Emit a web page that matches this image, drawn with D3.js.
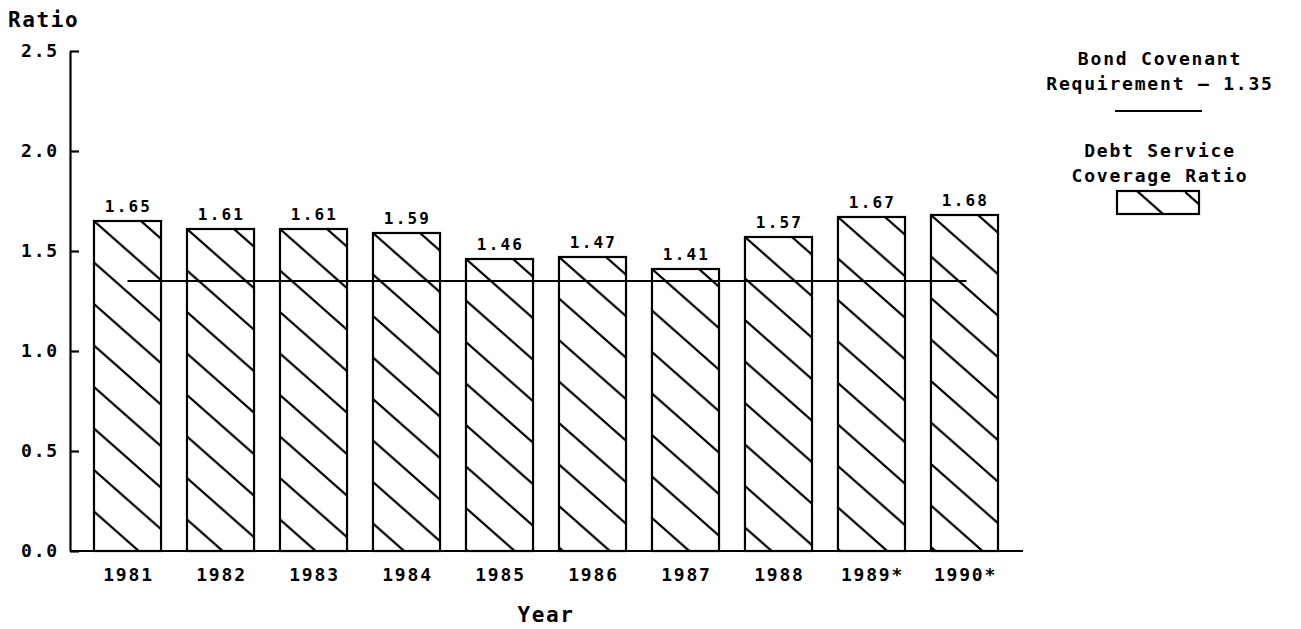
<!DOCTYPE html>
<html>
<head>
<meta charset="utf-8">
<script src="https://cdn.jsdelivr.net/npm/d3@7"></script>
<style>
    body { margin: 0; background: #fff; }
    svg { display: block; }
    text { font-family: "DejaVu Sans Mono", monospace; font-weight: bold; fill: #000; }
</style>
</head>
<body>
<svg id="chart" width="1301" height="629"></svg>
<script>
const years = ["1981", "1982", "1983", "1984", "1985", "1986", "1987", "1988", "1989*", "1990*"];
const ratios = [1.65, 1.61, 1.61, 1.59, 1.46, 1.47, 1.41, 1.57, 1.67, 1.68];
const yTicks = [0, 0.5, 1.0, 1.5, 2.0, 2.5];
const requirement = 1.35;
const legendLines = ["Bond Covenant", "Requirement \u2014 1.35"];
const legendBars = ["Debt Service", "Coverage Ratio"];

const HATCH_W = 47;
const HATCH_H = 41.5;
const INK = "#000";

const svg = d3.select("#chart");
const defs = svg.append("defs");

const translate = (x, y) => "translate(" + String(x) + "," + String(y) + ")";

const x = d3.scaleBand().domain(years).range([70, 1022]).paddingInner(0.279).paddingOuter(0.258);
const y = d3.scaleLinear().domain([0, 2.5]).range([551, 51]);

// hatch pattern anchored at the top-left corner of whatever it fills
const hatch = (id, ox, oy) => {
    const s = HATCH_H / HATCH_W;
    const p = defs.append("pattern")
        .attr("id", id)
        .attr("patternUnits", "userSpaceOnUse")
        .attr("x", ox)
        .attr("y", oy)
        .attr("width", HATCH_W)
        .attr("height", HATCH_H);
    p.append("rect").attr("width", HATCH_W).attr("height", HATCH_H).attr("fill", "#fff");
    [-HATCH_H, 0, HATCH_H].forEach(off => {
        p.append("line")
            .attr("x1", -HATCH_W).attr("y1", -HATCH_W * s + off)
            .attr("x2", 2 * HATCH_W).attr("y2", 2 * HATCH_W * s + off)
            .attr("stroke", INK)
            .attr("stroke-width", 2.2);
    });
    return "url(#" + id + ")";
};

// bars
svg.append("g").attr("class", "bars")
    .selectAll("rect")
    .data(years)
    .enter()
    .append("rect")
    .attr("x", d => x(d))
    .attr("y", (d, i) => y(ratios[i]))
    .attr("width", x.bandwidth())
    .attr("height", (d, i) => y(0) - y(ratios[i]))
    .attr("fill", (d, i) => hatch("hatch" + i, x(d), y(ratios[i])))
    .attr("stroke", INK)
    .attr("stroke-width", 2.2);

// value labels
svg.append("g").attr("class", "values")
    .selectAll("text")
    .data(years)
    .enter()
    .append("text")
    .attr("x", d => x(d) + x.bandwidth() / 2 + 1)
    .attr("y", (d, i) => y(ratios[i]) - 9)
    .attr("text-anchor", "middle")
    .style("font-size", "16px")
    .style("letter-spacing", "2.2px")
    .text((d, i) => ratios[i].toFixed(2));

// covenant requirement line
svg.append("line")
    .attr("x1", x(years[0]) + x.bandwidth() / 2)
    .attr("x2", x(years[years.length - 1]) + x.bandwidth() / 2 + 2)
    .attr("y1", y(requirement))
    .attr("y2", y(requirement))
    .attr("stroke", INK)
    .attr("stroke-width", 2.2);

// y axis
const yAxis = svg.append("g")
    .attr("class", "yaxis")
    .attr("transform", translate(70, 0))
    .call(d3.axisLeft(y).tickValues(yTicks).tickFormat(d3.format(".1f")).tickSizeInner(-9).tickSizeOuter(0).tickPadding(11));
yAxis.select(".domain").attr("stroke", INK).attr("stroke-width", 2.2);
yAxis.selectAll(".tick line").attr("stroke", INK).attr("stroke-width", 2.2);
yAxis.selectAll(".tick text")
    .attr("fill", null)
    .style("font-size", "18px")
    .style("letter-spacing", "1.8px");
yAxis.attr("font-size", null).attr("font-family", null);

// x axis
const xAxis = svg.append("g")
    .attr("class", "xaxis")
    .attr("transform", translate(0, 551))
    .call(d3.axisBottom(x).tickSize(0).tickSizeOuter(0));
xAxis.select(".domain").attr("stroke", INK).attr("stroke-width", 2.2).attr("d", "M70,0H1023");
xAxis.selectAll(".tick text")
    .attr("fill", null)
    .attr("y", 30)
    .attr("dy", null)
    .attr("dx", 1)
    .style("font-size", "18px")
    .style("letter-spacing", "1.8px");
xAxis.attr("font-size", null).attr("font-family", null);

// axis titles
svg.append("text")
    .attr("x", 8)
    .attr("y", 27)
    .style("font-size", "21px")
    .style("letter-spacing", "1.6px")
    .text("Ratio");

svg.append("text")
    .attr("x", 546)
    .attr("y", 622)
    .attr("text-anchor", "middle")
    .style("font-size", "21px")
    .style("letter-spacing", "1.6px")
    .text("Year");

// legend
const legend = svg.append("g").attr("class", "legend");
legend.selectAll("text.lineLabel")
    .data(legendLines)
    .enter()
    .append("text")
    .attr("class", "lineLabel")
    .attr("x", 1160)
    .attr("y", (d, i) => 65 + i * 25)
    .attr("text-anchor", "middle")
    .style("font-size", "18px")
    .style("letter-spacing", "1.8px")
    .text(d => d);

legend.append("line")
    .attr("x1", 1115).attr("x2", 1202)
    .attr("y1", 111).attr("y2", 111)
    .attr("stroke", INK)
    .attr("stroke-width", 2.2);

legend.selectAll("text.barLabel")
    .data(legendBars)
    .enter()
    .append("text")
    .attr("class", "barLabel")
    .attr("x", 1160)
    .attr("y", (d, i) => 157 + i * 25)
    .attr("text-anchor", "middle")
    .style("font-size", "18px")
    .style("letter-spacing", "1.8px")
    .text(d => d);

legend.append("rect")
    .attr("x", 1117).attr("y", 191)
    .attr("width", 82).attr("height", 23)
    .attr("fill", hatch("hatchLegend", 1137, 191))
    .attr("stroke", INK)
    .attr("stroke-width", 2.2);
</script>
</body>
</html>
